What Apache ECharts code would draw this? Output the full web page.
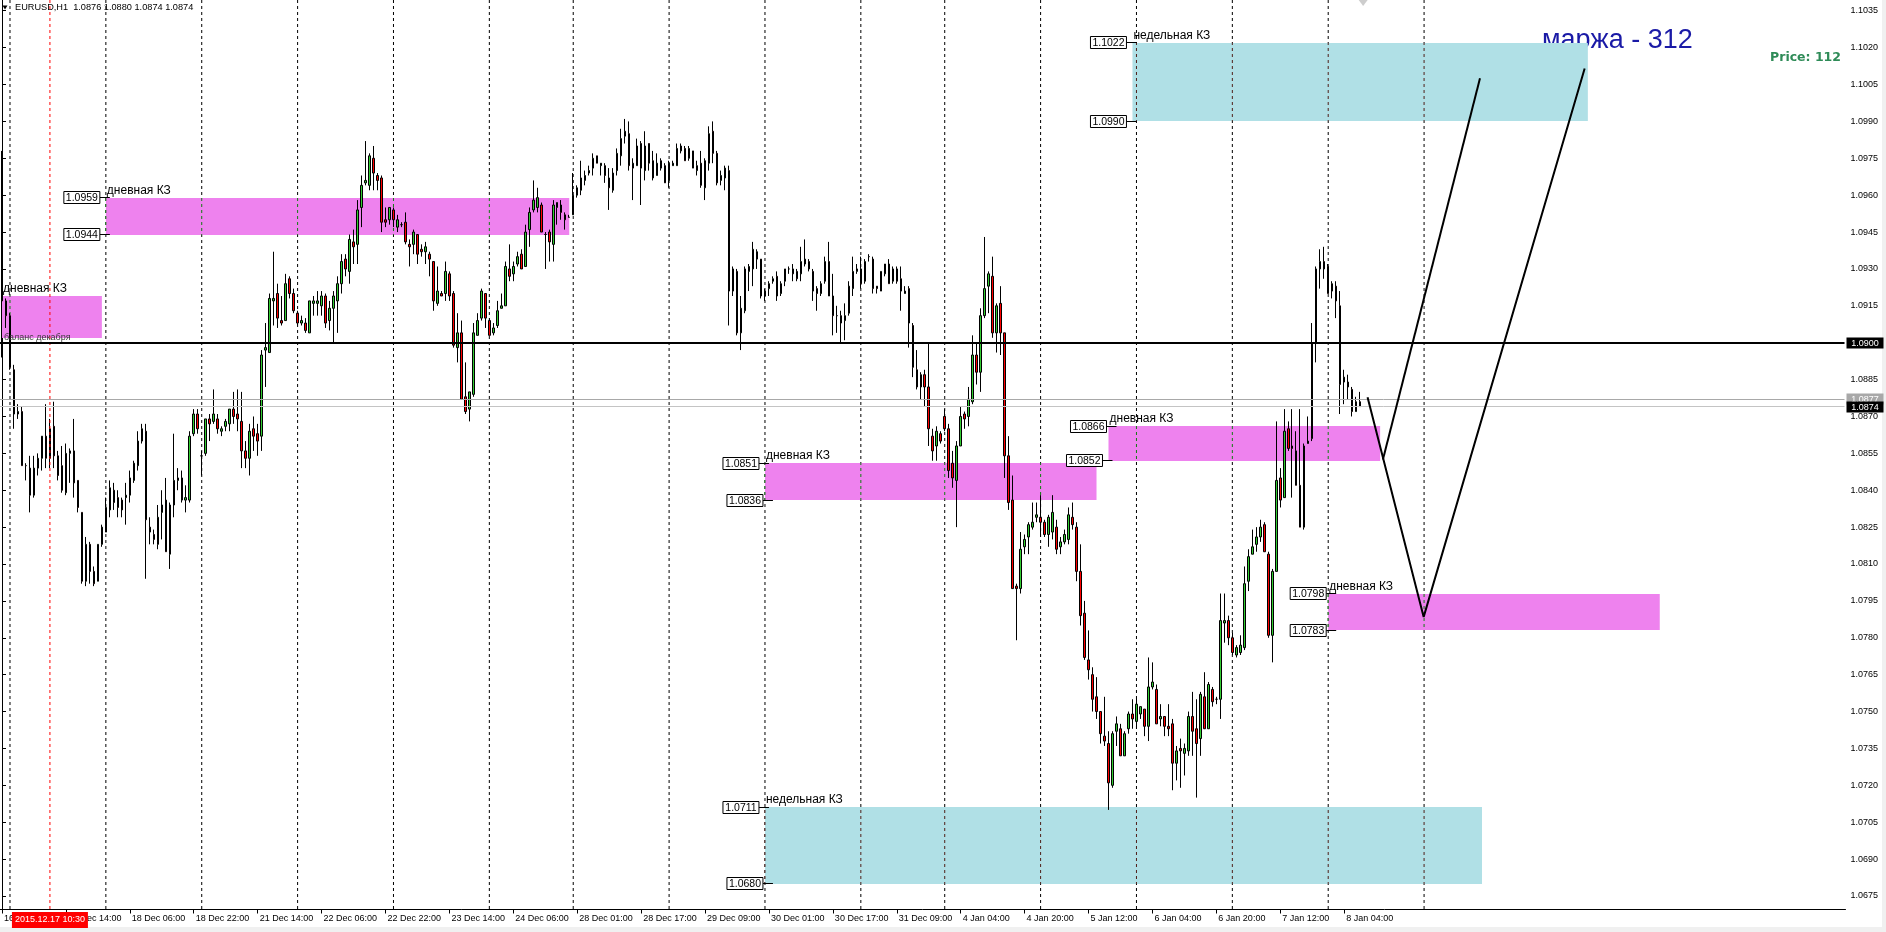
<!DOCTYPE html>
<html><head><meta charset="utf-8">
<script src="https://cdn.jsdelivr.net/npm/echarts@6/dist/echarts.min.js"></script>
<style>html,body{margin:0;padding:0;background:#fff;overflow:hidden}#c{width:1886px;height:932px}</style>
</head><body><div id="c"></div>
<script>
// ---- EURUSD H1 bars (index 0 = 16 Dec 22:00) ----
const openP = [
1.0930,1.0917,1.0911,1.0889,1.0871,1.0872,1.0850,1.0849,1.0838,1.0849,
1.0853,1.0862,1.0853,1.0866,1.0854,1.0850,1.0839,1.0855,1.0856,1.0844,
1.0831,1.0803,1.0818,1.0807,1.0803,1.0818,1.0823,1.0832,1.0840,1.0837,
1.0836,1.0837,1.0838,1.0844,1.0850,1.0860,1.0864,1.0825,1.0822,1.0818,
1.0831,1.0836,1.0814,1.0834,1.0844,1.0845,1.0836,1.0836,1.0863,1.0871,
1.0854,1.0855,1.0869,1.0868,1.0869,1.0864,1.0866,1.0867,1.0873,1.0871,
1.0868,1.0856,1.0853,1.0865,1.0863,1.0862,1.0897,1.0896,1.0917,1.0920,
1.0909,1.0909,1.0926,1.0920,1.0912,1.0908,1.0908,1.0904,1.0916,1.0916,
1.0915,1.0919,1.0909,1.0914,1.0917,1.0924,1.0934,1.0929,1.0941,1.0940,
1.0955,1.0965,1.0964,1.0975,1.0968,1.0967,1.0950,1.0950,1.0954,1.0947,
1.0948,1.0949,1.0940,1.0940,1.0944,1.0938,1.0937,1.0936,1.0933,1.0916,
1.0920,1.0920,1.0928,1.0920,1.0898,1.0904,1.0878,1.0873,1.0879,1.0903,
1.0910,1.0920,1.0909,1.0904,1.0907,1.0914,1.0915,1.0930,1.0928,1.0932,
1.0936,1.0931,1.0946,1.0954,1.0955,1.0956,1.0944,1.0945,1.0940,1.0955,
1.0956,1.0952,1.0951,1.0952,1.0960,1.0962,1.0966,1.0969,1.0971,1.0976,
1.0972,1.0972,1.0967,1.0962,1.0970,1.0976,1.0984,1.0985,1.0971,1.0972,
1.0981,1.0970,1.0981,1.0974,1.0968,1.0974,1.0972,1.0966,1.0972,1.0972,
1.0978,1.0979,1.0975,1.0978,1.0970,1.0973,1.0963,1.0973,1.0986,1.0977,
1.0966,1.0967,1.0970,1.0921,1.0929,1.0904,1.0913,1.0929,1.0930,1.0934,
1.0934,1.0919,1.0922,1.0925,1.0927,1.0920,1.0925,1.0930,1.0930,1.0929,
1.0928,1.0932,1.0933,1.0929,1.0922,1.0920,1.0925,1.0933,1.0919,1.0911,
1.0911,1.0909,1.0912,1.0922,1.0929,1.0930,1.0925,1.0935,1.0934,1.0923,
1.0921,1.0928,1.0932,1.0925,1.0930,1.0926,1.0920,1.0922,1.0907,1.0889,
1.0882,1.0887,1.0882,1.0862,1.0858,1.0863,1.0870,1.0865,1.0851,1.0844,
1.0858,1.0871,1.0870,1.0876,1.0895,1.0888,1.0911,1.0923,1.0927,1.0904,
1.0916,1.0904,1.0854,1.0836,1.0801,1.0800,1.0817,1.0821,1.0825,1.0829,
1.0829,1.0827,1.0822,1.0823,1.0825,1.0817,1.0819,1.0820,1.0829,1.0825,
1.0807,1.0790,1.0771,1.0765,1.0756,1.0750,1.0740,1.0737,1.0720,1.0742,
1.0743,1.0732,1.0743,1.0749,1.0746,1.0749,1.0751,1.0744,1.0760,1.0759,
1.0747,1.0748,1.0744,1.0745,1.0729,1.0735,1.0733,1.0734,1.0748,1.0743,
1.0739,1.0756,1.0743,1.0759,1.0755,1.0755,1.0786,1.0787,1.0780,1.0773,
1.0774,1.0776,1.0803,1.0814,1.0818,1.0821,1.0826,1.0814,1.0781,1.0807,
1.0845,1.0837,1.0865,1.0858,1.0856,1.0842,1.0825,1.0859,1.0861,1.0900,
1.0930,1.0933,1.0931,1.0921,1.0923,1.0915,1.0884,1.0884,1.0881,1.0872,
1.0876];
const highP = [
1.0978,1.0918,1.0912,1.0891,1.0875,1.0874,1.0851,1.0854,1.0854,1.0855,
1.0862,1.0875,1.0869,1.0876,1.0856,1.0858,1.0859,1.0857,1.0869,1.0844,
1.0831,1.0821,1.0819,1.0809,1.0818,1.0826,1.0837,1.0844,1.0843,1.0840,
1.0837,1.0843,1.0848,1.0852,1.0864,1.0867,1.0867,1.0829,1.0824,1.0834,
1.0840,1.0845,1.0835,1.0863,1.0849,1.0848,1.0842,1.0864,1.0873,1.0873,
1.0856,1.0869,1.0871,1.0881,1.0871,1.0866,1.0869,1.0873,1.0880,1.0881,
1.0880,1.0860,1.0867,1.0870,1.0867,1.0897,1.0908,1.0920,1.0937,1.0924,
1.0919,1.0928,1.0927,1.0922,1.0913,1.0911,1.0910,1.0917,1.0919,1.0921,
1.0921,1.0920,1.0917,1.0921,1.0927,1.0936,1.0936,1.0944,1.0946,1.0958,
1.0968,1.0982,1.0977,1.0980,1.0969,1.0968,1.0955,1.0955,1.0955,1.0952,
1.0949,1.0953,1.0942,1.0946,1.0944,1.0940,1.0941,1.0937,1.0933,1.0931,
1.0921,1.0933,1.0929,1.0921,1.0912,1.0909,1.0892,1.0880,1.0908,1.0912,
1.0922,1.0920,1.0910,1.0908,1.0917,1.0920,1.0933,1.0940,1.0933,1.0937,
1.0938,1.0948,1.0955,1.0966,1.0963,1.0957,1.0945,1.0946,1.0958,1.0957,
1.0958,1.0953,1.0952,1.0969,1.0964,1.0974,1.0970,1.0972,1.0977,1.0976,
1.0973,1.0973,1.0971,1.0971,1.0979,1.0987,1.0991,1.0990,1.0975,1.0983,
1.0982,1.0986,1.0981,1.0978,1.0977,1.0975,1.0973,1.0974,1.0974,1.0981,
1.0981,1.0980,1.0980,1.0978,1.0974,1.0978,1.0975,1.0988,1.0990,1.0978,
1.0970,1.0972,1.0972,1.0931,1.0930,1.0919,1.0931,1.0932,1.0941,1.0938,
1.0934,1.0922,1.0925,1.0927,1.0929,1.0925,1.0930,1.0931,1.0932,1.0930,
1.0939,1.0942,1.0934,1.0930,1.0923,1.0925,1.0935,1.0941,1.0928,1.0915,
1.0913,1.0916,1.0925,1.0935,1.0932,1.0935,1.0934,1.0936,1.0935,1.0923,
1.0929,1.0932,1.0934,1.0931,1.0931,1.0931,1.0923,1.0923,1.0908,1.0897,
1.0888,1.0889,1.0900,1.0865,1.0866,1.0864,1.0873,1.0867,1.0856,1.0860,
1.0874,1.0872,1.0882,1.0903,1.0900,1.0914,1.0943,1.0929,1.0935,1.0916,
1.0923,1.0904,1.0862,1.0846,1.0802,1.0823,1.0822,1.0827,1.0835,1.0835,
1.0838,1.0828,1.0830,1.0838,1.0828,1.0821,1.0824,1.0833,1.0835,1.0827,
1.0818,1.0795,1.0783,1.0768,1.0764,1.0750,1.0756,1.0742,1.0742,1.0748,
1.0745,1.0742,1.0750,1.0755,1.0756,1.0752,1.0751,1.0772,1.0770,1.0761,
1.0753,1.0748,1.0753,1.0747,1.0736,1.0739,1.0737,1.0750,1.0758,1.0755,
1.0758,1.0766,1.0762,1.0760,1.0756,1.0798,1.0798,1.0789,1.0782,1.0777,
1.0781,1.0809,1.0816,1.0824,1.0825,1.0828,1.0827,1.0815,1.0808,1.0868,
1.0849,1.0873,1.0868,1.0873,1.0864,1.0873,1.0859,1.0870,1.0908,1.0931,
1.0938,1.0939,1.0932,1.0925,1.0925,1.0921,1.0889,1.0887,1.0882,1.0878,
1.0880];
const lowP = [
1.0894,1.0906,1.0889,1.0865,1.0869,1.0850,1.0844,1.0831,1.0837,1.0846,
1.0848,1.0849,1.0849,1.0849,1.0844,1.0839,1.0838,1.0843,1.0837,1.0831,
1.0802,1.0801,1.0802,1.0801,1.0803,1.0817,1.0823,1.0829,1.0832,1.0829,
1.0829,1.0826,1.0835,1.0843,1.0848,1.0859,1.0804,1.0818,1.0818,1.0816,
1.0820,1.0815,1.0808,1.0829,1.0840,1.0835,1.0831,1.0835,1.0862,1.0863,
1.0846,1.0854,1.0860,1.0867,1.0863,1.0862,1.0864,1.0864,1.0867,1.0864,
1.0849,1.0849,1.0846,1.0856,1.0854,1.0856,1.0882,1.0896,1.0907,1.0906,
1.0907,1.0909,1.0918,1.0912,1.0907,1.0907,1.0904,1.0904,1.0911,1.0911,
1.0911,1.0906,1.0905,1.0900,1.0904,1.0920,1.0927,1.0924,1.0932,1.0932,
1.0947,1.0964,1.0962,1.0962,1.0962,1.0945,1.0947,1.0948,1.0947,1.0945,
1.0947,1.0940,1.0931,1.0936,1.0932,1.0935,1.0932,1.0927,1.0913,1.0915,
1.0919,1.0917,1.0917,1.0898,1.0892,1.0877,1.0871,1.0868,1.0878,1.0903,
1.0909,1.0906,1.0903,1.0903,1.0906,1.0914,1.0915,1.0925,1.0925,1.0931,
1.0930,1.0931,1.0939,1.0953,1.0953,1.0945,1.0930,1.0933,1.0933,1.0948,
1.0950,1.0946,1.0951,1.0952,1.0959,1.0960,1.0964,1.0968,1.0968,1.0973,
1.0968,1.0965,1.0954,1.0961,1.0968,1.0972,1.0981,1.0970,1.0958,1.0972,
1.0956,1.0966,1.0970,1.0966,1.0968,1.0970,1.0965,1.0963,1.0972,1.0972,
1.0977,1.0974,1.0974,1.0971,1.0968,1.0963,1.0958,1.0970,1.0973,1.0964,
1.0964,1.0962,1.0907,1.0919,1.0903,1.0897,1.0912,1.0921,1.0923,1.0930,
1.0918,1.0917,1.0919,1.0924,1.0917,1.0919,1.0923,1.0928,1.0925,1.0925,
1.0925,1.0931,1.0929,1.0917,1.0913,1.0919,1.0924,1.0919,1.0903,1.0904,
1.0900,1.0901,1.0911,1.0919,1.0928,1.0922,1.0924,1.0933,1.0920,1.0920,
1.0921,1.0927,1.0924,1.0924,1.0924,1.0913,1.0920,1.0898,1.0886,1.0881,
1.0877,1.0874,1.0858,1.0852,1.0852,1.0859,1.0864,1.0845,1.0841,1.0825,
1.0858,1.0865,1.0866,1.0875,1.0883,1.0880,1.0910,1.0912,1.0902,1.0896,
1.0895,1.0845,1.0832,1.0800,1.0779,1.0798,1.0814,1.0814,1.0824,1.0827,
1.0821,1.0821,1.0817,1.0820,1.0814,1.0814,1.0818,1.0818,1.0824,1.0803,
1.0785,1.0771,1.0763,1.0750,1.0747,1.0737,1.0736,1.0710,1.0719,1.0736,
1.0732,1.0732,1.0741,1.0743,1.0743,1.0747,1.0740,1.0738,1.0759,1.0745,
1.0744,1.0740,1.0740,1.0718,1.0722,1.0719,1.0724,1.0732,1.0732,1.0715,
1.0732,1.0743,1.0743,1.0752,1.0753,1.0747,1.0778,1.0777,1.0773,1.0772,
1.0773,1.0775,1.0799,1.0814,1.0815,1.0819,1.0815,1.0780,1.0770,1.0807,
1.0833,1.0837,1.0856,1.0837,1.0842,1.0825,1.0824,1.0859,1.0860,1.0892,
1.0922,1.0926,1.0920,1.0918,1.0910,1.0871,1.0875,1.0877,1.0870,1.0872,
1.0874];
const closeP = [
1.0917,1.0911,1.0890,1.0871,1.0872,1.0850,1.0850,1.0838,1.0849,1.0853,
1.0862,1.0853,1.0865,1.0854,1.0846,1.0840,1.0855,1.0856,1.0843,1.0833,
1.0803,1.0818,1.0807,1.0802,1.0818,1.0825,1.0833,1.0841,1.0835,1.0833,
1.0832,1.0838,1.0845,1.0851,1.0860,1.0865,1.0828,1.0823,1.0820,1.0829,
1.0834,1.0815,1.0834,1.0844,1.0845,1.0836,1.0837,1.0862,1.0871,1.0865,
1.0854,1.0869,1.0867,1.0871,1.0865,1.0865,1.0868,1.0873,1.0870,1.0869,
1.0856,1.0853,1.0864,1.0862,1.0860,1.0895,1.0898,1.0918,1.0918,1.0910,
1.0908,1.0924,1.0920,1.0913,1.0908,1.0909,1.0905,1.0917,1.0917,1.0917,
1.0919,1.0908,1.0914,1.0919,1.0924,1.0933,1.0930,1.0942,1.0939,1.0954,
1.0964,1.0966,1.0976,1.0969,1.0966,1.0949,1.0949,1.0955,1.0950,1.0950,
1.0948,1.0941,1.0939,1.0945,1.0936,1.0937,1.0939,1.0934,1.0917,1.0921,
1.0919,1.0929,1.0919,1.0899,1.0904,1.0877,1.0872,1.0880,1.0904,1.0909,
1.0921,1.0910,1.0903,1.0906,1.0913,1.0915,1.0931,1.0927,1.0931,1.0935,
1.0930,1.0945,1.0953,1.0958,1.0959,1.0945,1.0944,1.0941,1.0956,1.0957,
1.0953,1.0950,1.0951,1.0960,1.0963,1.0967,1.0968,1.0970,1.0975,1.0973,
1.0973,1.0968,1.0963,1.0969,1.0977,1.0983,1.0986,1.0972,1.0973,1.0980,
1.0971,1.0980,1.0973,1.0967,1.0973,1.0971,1.0965,1.0973,1.0973,1.0979,
1.0980,1.0974,1.0979,1.0971,1.0972,1.0964,1.0974,1.0985,1.0977,1.0965,
1.0968,1.0971,1.0921,1.0930,1.0904,1.0914,1.0930,1.0931,1.0938,1.0937,
1.0919,1.0921,1.0924,1.0926,1.0919,1.0924,1.0930,1.0930,1.0928,1.0926,
1.0933,1.0934,1.0930,1.0921,1.0920,1.0924,1.0933,1.0919,1.0911,1.0911,
1.0908,1.0911,1.0923,1.0929,1.0930,1.0924,1.0933,1.0935,1.0922,1.0922,
1.0929,1.0932,1.0924,1.0930,1.0925,1.0921,1.0921,1.0908,1.0890,1.0882,
1.0887,1.0882,1.0865,1.0856,1.0864,1.0860,1.0865,1.0848,1.0845,1.0858,
1.0870,1.0869,1.0877,1.0895,1.0888,1.0911,1.0922,1.0928,1.0904,1.0915,
1.0904,1.0854,1.0835,1.0800,1.0800,1.0816,1.0820,1.0826,1.0827,1.0830,
1.0827,1.0822,1.0829,1.0831,1.0816,1.0819,1.0822,1.0830,1.0826,1.0807,
1.0789,1.0772,1.0767,1.0755,1.0750,1.0741,1.0738,1.0721,1.0741,1.0745,
1.0732,1.0741,1.0749,1.0747,1.0753,1.0752,1.0744,1.0760,1.0762,1.0745,
1.0748,1.0744,1.0743,1.0729,1.0734,1.0734,1.0735,1.0748,1.0742,1.0737,
1.0757,1.0743,1.0761,1.0754,1.0755,1.0787,1.0787,1.0780,1.0774,1.0776,
1.0777,1.0802,1.0813,1.0817,1.0821,1.0825,1.0815,1.0781,1.0807,1.0844,
1.0836,1.0864,1.0857,1.0857,1.0842,1.0825,1.0858,1.0860,1.0900,1.0930,
1.0933,1.0930,1.0920,1.0924,1.0917,1.0883,1.0886,1.0882,1.0872,1.0876,
1.0874];

// time axis labels, one every 16 bars starting at bar 0
const timeTickLabels = ['16 Dec 22:00','17 Dec 14:00','18 Dec 06:00','18 Dec 22:00','21 Dec 14:00','22 Dec 06:00',
  '22 Dec 22:00','23 Dec 14:00','24 Dec 06:00','28 Dec 01:00','28 Dec 17:00','29 Dec 09:00','30 Dec 01:00',
  '30 Dec 17:00','31 Dec 09:00','4 Jan 04:00','4 Jan 20:00','5 Jan 12:00','6 Jan 04:00','6 Jan 20:00',
  '7 Jan 12:00','8 Jan 04:00'];
const priceTicks = [1.0675,1.0690,1.0705,1.0720,1.0735,1.0750,1.0765,1.0780,1.0795,1.0810,1.0825,1.0840,
  1.0855,1.0870,1.0885,1.0900,1.0915,1.0930,1.0945,1.0960,1.0975,1.0990,1.1005,1.1020,1.1035];
// day separators (bar index of midnight)
const daySeparators = [2,26,50,74,98,122,143,167,191,215,236,260,284,308,332,356];
const markerLines = [{bar:12, label:'2015.12.17 10:30'}];
// zones: bar range and price range
const zones = [
  {from:0,   to:25,    top:1.0919, bottom:1.0902, kind:'day',  text:'дневная КЗ'},
  {from:26,  to:142,   top:1.0959, bottom:1.0944, kind:'day',  text:'дневная КЗ'},
  {from:191, to:274,   top:1.0851, bottom:1.0836, kind:'day',  text:'дневная КЗ'},
  {from:277, to:345,   top:1.0866, bottom:1.0852, kind:'day',  text:'дневная КЗ'},
  {from:332, to:415,   top:1.0798, bottom:1.0783, kind:'day',  text:'дневная КЗ'},
  {from:283, to:397,   top:1.1022, bottom:1.0990, kind:'week', text:'недельная КЗ'},
  {from:191, to:370.5, top:1.0711, bottom:1.0680, kind:'week', text:'недельная КЗ'}
];
const priceTags = [
  {bar:27, price:1.0959},{bar:27, price:1.0944},
  {bar:192,price:1.0851},{bar:193,price:1.0836},
  {bar:279,price:1.0866},{bar:278,price:1.0852},
  {bar:334,price:1.0798},{bar:334,price:1.0783},
  {bar:284,price:1.1022},{bar:284,price:1.0990},
  {bar:192,price:1.0711},{bar:193,price:1.0680}
];
const hLevels = [{price:1.0877, kind:'ask'},{price:1.0874, kind:'bid'},{price:1.0900, kind:'level'}];
const notes = [{bar:0, price:1.0900, text:'баланс декабря'}];
const pathA = [[341.85,1.08778],[355.9,1.07885],[396.2,1.10115]];
const pathB = [[345.7,1.08525],[370.0,1.10075]];
const shiftMark = [[340.75, 1.10394]];
const header = 'EURUSD,H1  1.0876 1.0880 1.0874 1.0874';

// ---- layout / styles ----
const Y_MIN = 1.06695, Y_MAX = 1.103937, NBARS = 462;
const BULL = '#32cd32', BEAR = '#ff0000';
const ZONE_FILL = {day:'#ee82ee', week:'#b0e0e6'};
const ZONE_INV  = {day:'#117d11', week:'#4f1f19'};
const FONT = '"Liberation Sans", Arial, sans-serif';
const LEVEL_STYLE = {
  level:{stroke:'#000', width:2, bg:'#000'},
  ask:{stroke:'#a8a8a8', width:1, bg:'#a8a8a8'},
  bid:{stroke:'#c4c4c4', width:1, bg:'#000'}
};

const candles = openP.map((o,i)=>[o, closeP[i], lowP[i], highP[i]]);
const cats = Array.from({length:NBARS}, (_, i) => String(i));
const isTick = (idx) => idx % 16 === 0 && idx/16 < timeTickLabels.length;

function renderSep(params, api){
  const x = api.coord([api.value(0), Y_MAX])[0];
  const cs = params.coordSys;
  return {type:'line', shape:{x1:x, y1:cs.y, x2:x, y2:cs.y+cs.height},
    style:{stroke:'#000', lineWidth:1, lineDash:[3,3]}};
}
// separator segments that cross a zone are shown in the zone's inverse colour (as MT4 draws them)
function renderSepOver(params, api){
  const b = api.value(0);
  const x = api.coord([b, Y_MAX])[0];
  const cs = params.coordSys;
  const children = [];
  zones.forEach(z => {
    if (b >= z.from && b <= z.to) {
      const y1 = Math.round(api.coord([b, z.top])[1]);
      const y2 = Math.round(api.coord([b, z.bottom])[1]);
      children.push({type:'line', shape:{x1:x, y1:y1, x2:x, y2:y2},
        style:{stroke:ZONE_INV[z.kind], lineWidth:1, lineDash:[3,3], lineDashOffset:(y1-cs.y)%6}});
    }
  });
  return {type:'group', children};
}
function renderZone(params, api){
  const z = zones[params.dataIndex];
  const tl = api.coord([z.from, z.top]);
  const br = api.coord([z.to, z.bottom]);
  const y0 = Math.round(tl[1]), y1 = Math.round(br[1]);
  return {type:'group', children:[
    {type:'rect', shape:{x:tl[0], y:y0, width:br[0]-tl[0], height:y1-y0}, style:{fill:ZONE_FILL[z.kind]}},
    {type:'text', x:tl[0]+1, y:y0-1,
      style:{text:z.text, font:'12px '+FONT, fill:'#000', align:'left', verticalAlign:'bottom'}}
  ]};
}
function renderTag(params, api){
  const t = priceTags[params.dataIndex];
  const p = api.coord([t.bar, t.price]);
  const y = Math.round(p[1]-0.5)+0.5;
  const x = p[0];
  return {type:'group', children:[
    {type:'line', shape:{x1:x-10, y1:y, x2:x, y2:y}, style:{stroke:'#000', lineWidth:1}},
    {type:'rect', shape:{x:x-46, y:y-6, width:36, height:12}, style:{fill:'#fff', stroke:'#000', lineWidth:1}},
    {type:'text', x:x-28, y:y+0.5, style:{text:t.price.toFixed(4), font:'10.5px '+FONT, fill:'#000', align:'center', verticalAlign:'middle'}}
  ]};
}
function renderMarker(params, api){
  const m = markerLines[params.dataIndex];
  const x = api.coord([m.bar, Y_MAX])[0];
  const cs = params.coordSys;
  const b = cs.y + cs.height;
  return {type:'group', children:[
    {type:'line', shape:{x1:x, y1:cs.y, x2:x, y2:b}, style:{stroke:'#ff0000', lineWidth:1, lineDash:[3,3]}},
    {type:'rect', shape:{x:x-38, y:b+2.5, width:76, height:16}, style:{fill:'#ff0000'}},
    {type:'text', x:x, y:b+10.5, style:{text:m.label, font:'9px '+FONT, fill:'#fff', align:'center', verticalAlign:'middle'}}
  ]};
}
function renderLevel(params, api){
  const h = hLevels[params.dataIndex];
  const s = LEVEL_STYLE[h.kind];
  const cs = params.coordSys;
  const yc = api.coord([0, h.price])[1];
  const y = s.width === 2 ? Math.round(yc) : Math.round(yc-0.5)+0.5;
  const right = cs.x + cs.width - 1;
  const ly = Math.round(yc);
  return {type:'group', children:[
    {type:'line', shape:{x1:0, y1:y, x2:right, y2:y}, style:{stroke:s.stroke, lineWidth:s.width}},
    {type:'rect', shape:{x:right+2, y:ly-5.5, width:37, height:11}, style:{fill:s.bg}},
    {type:'text', x:right+2+18.5, y:ly+0.5, style:{text:h.price.toFixed(4), font:'9px '+FONT, fill:'#fff', align:'center', verticalAlign:'middle'}}
  ]};
}
function renderNote(params, api){
  const n = notes[params.dataIndex];
  const p = api.coord([n.bar, n.price]);
  return {type:'text', x:p[0]+2, y:p[1]-1, style:{text:n.text, font:'9px '+FONT, fill:'#3a3a3a', align:'left', verticalAlign:'bottom'}};
}

const option = {
  animation:false,
  backgroundColor:'#fff',
  textStyle:{fontFamily:FONT},
  grid:{left:-2.5, right:40.5, top:0, bottom:22.5, containLabel:false},
  xAxis:[{
    type:'category', data:cats, boundaryGap:true,
    axisLine:{show:true, lineStyle:{color:'#000', width:1}},
    axisTick:{show:true, alignWithLabel:true, length:4, interval:(i)=>isTick(i), lineStyle:{color:'#000'}},
    axisLabel:{show:true, interval:(i)=>isTick(i), formatter:(v,i)=>isTick(i)?timeTickLabels[i/16]:'',
      align:'left', margin:5, padding:[0,0,0,2], fontSize:9, color:'#000', fontFamily:FONT},
    splitLine:{show:false}
  },{
    type:'value', min:-0.5, max:NBARS-0.5, show:false, splitLine:{show:false}
  }],
  yAxis:{
    type:'value', position:'right', min:Y_MIN, max:Y_MAX, offset:-1, scale:true,
    axisLine:{show:true, lineStyle:{color:'#000', width:1}},
    axisTick:{show:true, length:4, customValues:priceTicks, lineStyle:{color:'#000'}},
    axisLabel:{show:true, customValues:priceTicks, formatter:(v)=>v.toFixed(4), margin:6, fontSize:9, color:'#000', fontFamily:FONT},
    splitLine:{show:false}
  },
  series:[
    {type:'custom', name:'sep', xAxisIndex:1, yAxisIndex:0, z:1, silent:true, clip:false,
      data:daySeparators.map(b=>[b]), encode:{x:0}, renderItem:renderSep},
    {type:'custom', name:'zones', xAxisIndex:1, yAxisIndex:0, z:2, silent:true, clip:true,
      data:zones.map(z=>[z.from, z.top, z.to, z.bottom]), encode:{x:[0,2], y:[1,3]}, renderItem:renderZone},
    {type:'custom', name:'sepOver', xAxisIndex:1, yAxisIndex:0, z:2.5, silent:true, clip:false,
      data:daySeparators.map(b=>[b]), encode:{x:0}, renderItem:renderSepOver},
    {type:'candlestick', name:'EURUSD', xAxisIndex:0, yAxisIndex:0, z:3, silent:true,
      data:candles, barWidth:2,
      itemStyle:{color:BULL, color0:BEAR, borderColor:'#000', borderColor0:'#000', borderColorDoji:'#000', borderWidth:1}},
    {type:'custom', name:'marker', xAxisIndex:1, yAxisIndex:0, z:4, silent:true, clip:false,
      data:markerLines.map(m=>[m.bar]), encode:{x:0}, renderItem:renderMarker},
    {type:'custom', name:'notes', xAxisIndex:1, yAxisIndex:0, z:4, silent:true, clip:false,
      data:notes.map(n=>[n.bar, n.price]), encode:{x:0, y:1}, renderItem:renderNote},
    {type:'custom', name:'levels', xAxisIndex:1, yAxisIndex:0, z:5, silent:true, clip:false,
      data:hLevels.map(h=>[0, h.price]), encode:{x:0, y:1}, renderItem:renderLevel},
    {type:'line', name:'pathA', xAxisIndex:1, yAxisIndex:0, z:5, silent:true, data:pathA, symbol:'none',
      lineStyle:{color:'#000', width:2}},
    {type:'line', name:'pathB', xAxisIndex:1, yAxisIndex:0, z:5, silent:true, data:pathB, symbol:'none',
      lineStyle:{color:'#000', width:2}},
    {type:'custom', name:'tags', xAxisIndex:1, yAxisIndex:0, z:6, silent:true, clip:false,
      data:priceTags.map(t=>[t.bar, t.price]), encode:{x:0, y:1}, renderItem:renderTag},
    {type:'scatter', name:'shift', xAxisIndex:1, yAxisIndex:0, z:6, silent:true, data:shiftMark,
      symbol:'triangle', symbolRotate:180, symbolSize:[9,6], symbolOffset:[0,3], itemStyle:{color:'#c0c0c0'}}
  ],
  graphic:[
    {type:'polygon', shape:{points:[[2.5,5.5],[7.5,5.5],[5,9.5]]}, style:{fill:'#000'}},
    {type:'text', x:15, y:7.5, style:{text:header, font:'9.2px '+FONT, fill:'#000', verticalAlign:'middle'}},
    {type:'text', x:1542, y:41, style:{text:'маржа - 312', font:'27px '+FONT, fill:'#1a1aa6', verticalAlign:'middle'}},
    {type:'text', x:1841, y:58, style:{text:'Price: 112', font:'bold 12.5px "DejaVu Sans"', fill:'#2e8b57', align:'right', verticalAlign:'middle'}},
    {type:'rect', shape:{x:1882, y:0, width:4, height:932}, style:{fill:'#f0f0f0'}},
    {type:'rect', shape:{x:0, y:927, width:1886, height:5}, style:{fill:'#f0f0f0'}}
  ]
};
const chart = echarts.init(document.getElementById('c'), null, {renderer:'canvas', width:1886, height:932});
chart.setOption(option);
</script>
</body></html>
